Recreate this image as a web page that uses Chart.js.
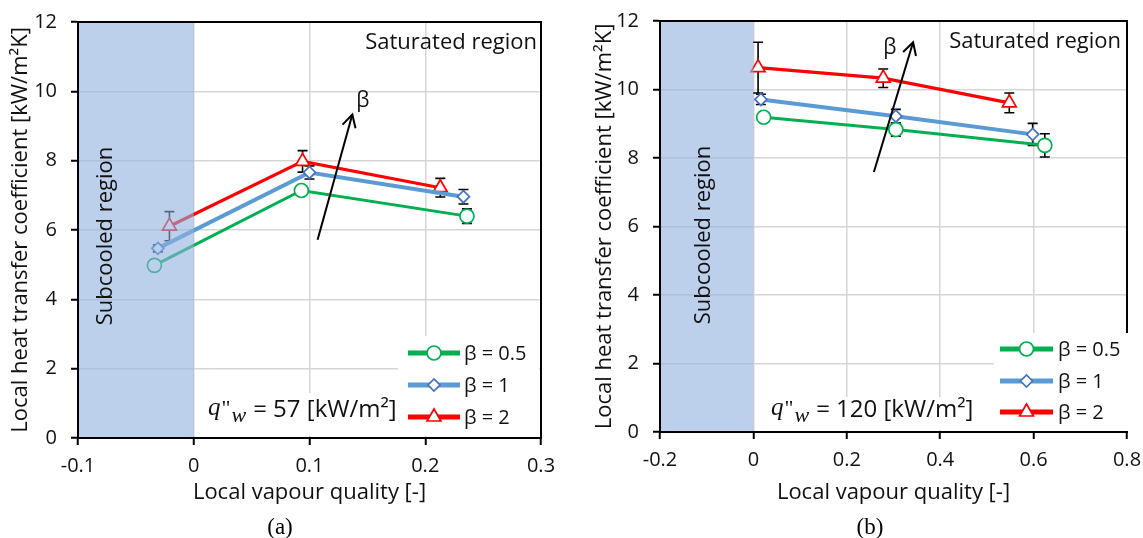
<!DOCTYPE html>
<html><head><meta charset="utf-8">
<script src="https://cdn.jsdelivr.net/npm/chart.js@4.4.0/dist/chart.umd.min.js"></script>
<style>
html,body{margin:0;padding:0;background:#fff;width:1143px;height:538px;overflow:hidden;position:relative;}
canvas{position:absolute;top:0;}
#cA{left:0;} #cB{left:575px;}
.cap{position:absolute;font-family:"Liberation Serif","DejaVu Serif",serif;font-size:23px;color:#000;transform:translate(-50%,-50%);top:526px;line-height:1;}
</style></head><body>
<canvas id="cA" width="570" height="538"></canvas>
<canvas id="cB" width="568" height="538"></canvas>
<div class="cap" style="left:280px">(a)</div>
<div class="cap" style="left:870px">(b)</div>
<script>
// ---------- DATA ----------
const yTickLabels = ['0','2','4','6','8','10','12'];
const xTickLabelsA = ['-0.1','0','0.1','0.2','0.3'];
const xTickLabelsB = ['-0.2','0','0.2','0.4','0.6','0.8'];
const seriesNames = ['β = 0.5','β = 1','β = 2'];

// (a) q"w = 57 kW/m2
const xA_b05 = [-0.034, 0.093, 0.236];
const hA_b05 = [4.98, 7.14, 6.40];
const eA_b05 = [0.08, 0.10, 0.21];
const xA_b1  = [-0.031, 0.100, 0.233];
const hA_b1  = [5.47, 7.66, 6.96];
const eA_b1  = [0.10, 0.19, 0.21];
const xA_b2  = [-0.021, 0.094, 0.213];
const hA_b2  = [6.11, 7.98, 7.22];
const eA_b2  = [0.42, 0.31, 0.27];

// (b) q"w = 120 kW/m2
const xB_b05 = [0.022, 0.305, 0.624];
const hB_b05 = [9.19, 8.83, 8.37];
const eB_b05 = [0.08, 0.19, 0.34];
const xB_b1  = [0.016, 0.305, 0.598];
const hB_b1  = [9.71, 9.22, 8.69];
const eB_b1  = [0.15, 0.20, 0.32];
const xB_b2  = [0.010, 0.278, 0.548];
const hB_b2  = [10.64, 10.33, 9.61];
const eB_b2  = [0.74, 0.27, 0.29];

// ---------- STYLE ----------
const FONT = '"Open Sans", Lato, "Noto Sans", sans-serif';
const TXT = '#111';
const GREEN = '#00b050', BLUE = '#5b9bd5', BLUE_EDGE = '#4472c4', RED = '#ff0000';
const styles = [
  {line: GREEN, edge: GREEN, w: 3, ps: 'circle', r: 7},
  {line: BLUE, edge: BLUE_EDGE, w: 4, ps: 'rectRot', r: 6},
  {line: RED, edge: RED, w: 3.2, ps: 'triangle', r: 8}
];

function pts(xs, ys){ return xs.map((x,i)=>({x:x, y:ys[i]})); }
function mkDatasets(list){
  return list.map((d,i)=>({
    label: seriesNames[i],
    data: pts(d[0], d[1]),
    showLine: true,
    borderColor: styles[i].line,
    borderWidth: styles[i].w,
    pointStyle: styles[i].ps,
    pointRadius: styles[i].r,
    pointHoverRadius: styles[i].r,
    pointBackgroundColor: '#fff',
    pointBorderColor: styles[i].edge,
    pointBorderWidth: 1.7,
    tension: 0
  }));
}

function decor(cfg){
  return {
    id: 'decor_' + cfg.name,
    beforeDatasetsDraw(chart){
      const ctx = chart.ctx, x = chart.scales.x, y = chart.scales.y;
      ctx.save();
      ctx.strokeStyle = '#000'; ctx.lineWidth = 1.6;
      cfg.errors.forEach((errs, di)=>{
        chart.data.datasets[di].data.forEach((p,j)=>{
          const px = x.getPixelForValue(p.x);
          const yt = y.getPixelForValue(p.y + errs[j]);
          const yb = y.getPixelForValue(p.y - errs[j]);
          ctx.beginPath();
          ctx.moveTo(px, yt); ctx.lineTo(px, yb);
          ctx.moveTo(px-5, yt); ctx.lineTo(px+5, yt);
          ctx.moveTo(px-5, yb); ctx.lineTo(px+5, yb);
          ctx.stroke();
        });
      });
      ctx.restore();
    },
    afterDatasetsDraw(chart){
      const ctx = chart.ctx, x = chart.scales.x, y = chart.scales.y;
      const a = chart.chartArea;
      ctx.save();
      // subcooled shading (semi-transparent, over the marks)
      const sx0 = x.getPixelForValue(cfg.shade[0]), sx1 = x.getPixelForValue(cfg.shade[1]);
      ctx.fillStyle = 'rgba(143,177,223,0.6)';
      ctx.fillRect(sx0+1, a.top+1, sx1-sx0-1, a.bottom-a.top-1);
      // frame
      ctx.strokeStyle = '#000'; ctx.lineWidth = 2;
      ctx.strokeRect(a.left, a.top, a.right-a.left, a.bottom-a.top);
      // white boxes
      ctx.fillStyle = '#fff';
      cfg.boxes.forEach(b=>ctx.fillRect(b[0], b[1], b[2], b[3]));
      // texts
      ctx.fillStyle = TXT;
      ctx.font = '22px ' + FONT;
      ctx.textBaseline = 'middle';
      ctx.textAlign = 'right';
      ctx.fillText('Saturated region', cfg.sat[0], cfg.sat[1]);
      ctx.save();
      ctx.translate(cfg.sub[0], cfg.sub[1]);
      ctx.rotate(-Math.PI/2);
      ctx.textAlign = 'center';
      ctx.fillText('Subcooled region', 0, 0);
      ctx.restore();
      // beta arrow
      const ax0 = x.getPixelForValue(cfg.arrow[0]), ay0 = y.getPixelForValue(cfg.arrow[1]);
      const ax1 = x.getPixelForValue(cfg.arrow[2]), ay1 = y.getPixelForValue(cfg.arrow[3]);
      ctx.strokeStyle = '#000'; ctx.lineWidth = 2;
      ctx.beginPath(); ctx.moveTo(ax0, ay0); ctx.lineTo(ax1, ay1); ctx.stroke();
      const ang = Math.atan2(ay1-ay0, ax1-ax0), L = 14, sp = 0.5;
      ctx.beginPath();
      ctx.moveTo(ax1 - L*Math.cos(ang-sp), ay1 - L*Math.sin(ang-sp));
      ctx.lineTo(ax1, ay1);
      ctx.lineTo(ax1 - L*Math.cos(ang+sp), ay1 - L*Math.sin(ang+sp));
      ctx.stroke();
      ctx.textAlign = 'center';
      ctx.font = '21px ' + FONT;
      ctx.fillText('β', x.getPixelForValue(cfg.betaPos[0]), y.getPixelForValue(cfg.betaPos[1]));
      // q"w label
      let qx = cfg.q[0]; const qb = cfg.q[1];
      ctx.textAlign = 'left'; ctx.textBaseline = 'alphabetic';
      ctx.font = 'italic 25px "Liberation Serif", serif';
      ctx.fillText('q', qx, qb); qx += ctx.measureText('q').width + 1;
      ctx.font = '22px "Liberation Serif", serif';
      ctx.fillText('"', qx, qb); qx += ctx.measureText('"').width + 1;
      ctx.font = 'italic 22px "Liberation Serif", serif';
      ctx.fillText('w', qx, qb + 7); qx += ctx.measureText('w').width + 7;
      ctx.font = '24px ' + FONT;
      ctx.fillText('= ' + cfg.qVal + ' [kW/m²]', qx, qb + 2);
      // legend
      ctx.textBaseline = 'middle';
      cfg.legendRows.forEach((ry, i)=>{
        const s = styles[i];
        ctx.strokeStyle = s.line; ctx.lineWidth = 5; ctx.lineCap = 'butt';
        ctx.beginPath(); ctx.moveTo(cfg.legendX[0], ry); ctx.lineTo(cfg.legendX[1], ry); ctx.stroke();
        ctx.fillStyle = '#fff'; ctx.strokeStyle = s.edge; ctx.lineWidth = 1.7;
        Chart.helpers.drawPoint(ctx, {pointStyle: s.ps, radius: s.r, borderWidth: 1.7, rotation: 0},
          (cfg.legendX[0]+cfg.legendX[1])/2, ry);
        ctx.fillStyle = TXT; ctx.font = '20px ' + FONT; ctx.textAlign = 'left';
        ctx.fillText(seriesNames[i], cfg.legendX[2], ry + 1);
      });
      ctx.restore();
    }
  };
}

function noPad(s){ s.paddingLeft = 0; s.paddingRight = 0; s.paddingTop = 0; s.paddingBottom = 0; }

function mkChart(id, datasets, xr, xLabels, geo, cfg){
  return new Chart(document.getElementById(id), {
    type: 'scatter',
    data: {datasets: datasets},
    options: {
      responsive: false, animation: false, devicePixelRatio: 1,
      layout: {padding: geo.pad},
      plugins: {legend: {display: false}, tooltip: {enabled: false}},
      scales: {
        x: {
          type: 'linear', min: xr[0], max: xr[1],
          ticks: {stepSize: xr[2], color: TXT, font: {family: FONT, size: 20}, padding: 9,
            callback: (v, i) => xLabels[i]},
          grid: {color: '#d6d6d6', lineWidth: 1.5, drawTicks: true, tickLength: 7, tickColor: '#000', tickWidth: 2},
          border: {display: true, color: '#000', width: 2},
          title: {display: true, text: 'Local vapour quality [-]', color: TXT,
            font: {family: FONT, size: 22}, padding: {top: 0, bottom: geo.xtPad}},
          afterFit: s => { s.height = geo.xh; noPad(s); }
        },
        y: {
          type: 'linear', min: 0, max: 12,
          ticks: {stepSize: 2, color: TXT, font: {family: FONT, size: 20}, padding: 14,
            callback: (v, i) => yTickLabels[i]},
          grid: {color: '#d6d6d6', lineWidth: 1.5, drawTicks: true, tickLength: 7, tickColor: '#000', tickWidth: 2},
          border: {display: true, color: '#000', width: 2},
          title: {display: true, text: 'Local heat transfer coefficient [kW/m²K]', color: TXT,
            font: {family: FONT, size: 22}, padding: {top: geo.ytPad, bottom: 0}},
          afterFit: s => { s.width = geo.yw; noPad(s); }
        }
      }
    },
    plugins: [decor(cfg)]
  });
}

mkChart('cA',
  mkDatasets([[xA_b05,hA_b05],[xA_b1,hA_b1],[xA_b2,hA_b2]]),
  [-0.1, 0.3, 0.1], xTickLabelsA,
  {pad: {left: 0, top: 22, right: 29, bottom: 30}, yw: 78, xh: 70, xtPad: 2, ytPad: 8},
  {name: 'a', errors: [eA_b05, eA_b1, eA_b2], shade: [-0.1, 0],
   boxes: [[398, 336, 141, 100], [204, 393, 192, 42]],
   sat: [537, 43], sub: [106, 236],
   arrow: [0.107, 5.72, 0.137, 9.33], betaPos: [0.146, 9.72],
   q: [208, 415], qVal: '57',
   legendRows: [353, 385, 417], legendX: [408, 460, 464]});

mkChart('cB',
  mkDatasets([[xB_b05,hB_b05],[xB_b1,hB_b1],[xB_b2,hB_b2]]),
  [-0.2, 0.8, 0.2], xTickLabelsB,
  {pad: {left: 0, top: 21, right: 16, bottom: 31}, yw: 85, xh: 75, xtPad: 1, ytPad: 17},
  {name: 'b', errors: [eB_b05, eB_b1, eB_b2], shade: [-0.2, 0],
   boxes: [[419, 333, 136, 98], [193, 397, 198, 33]],
   sat: [546, 42], sub: [129, 235],
   arrow: [0.258, 7.59, 0.342, 11.38], betaPos: [0.292, 11.22],
   q: [196, 415], qVal: '120',
   legendRows: [349, 381, 412], legendX: [425, 478, 483]});
</script>
</body></html>
